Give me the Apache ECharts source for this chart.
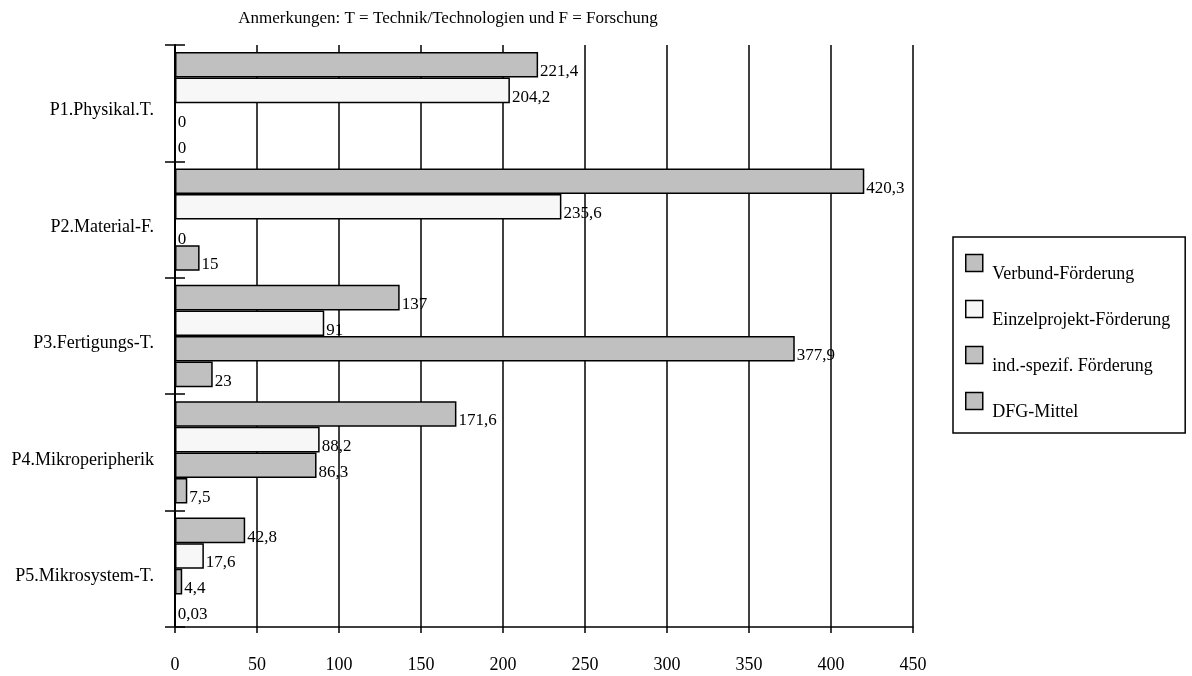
<!DOCTYPE html>
<html><head><meta charset="utf-8">
<script src="https://cdn.jsdelivr.net/npm/echarts@6/dist/echarts.min.js"></script>
<style>html,body{margin:0;padding:0;background:#fff}#c{width:1192px;height:676px}</style>
</head><body><div id="c"></div>
<script>
const categories = ['P1.Physikal.T.', 'P2.Material-F.', 'P3.Fertigungs-T.', 'P4.Mikroperipherik', 'P5.Mikrosystem-T.'];
const seriesNames = ['Verbund-Förderung', 'Einzelprojekt-Förderung', 'ind.-spezif. Förderung', 'DFG-Mittel'];
const verbund = [221.4, 420.3, 137, 171.6, 42.8];
const einzel = [204.2, 235.6, 91, 88.2, 17.6];
const indSpezif = [0, 0, 377.9, 86.3, 4.4];
const dfg = [0, 15, 23, 7.5, 0.03];
const xTicks = [0, 50, 100, 150, 200, 250, 300, 350, 400, 450];
const title = 'Anmerkungen: T = Technik/Technologien und F = Forschung';

const colors = ['#c0c0c0', '#f7f7f7', '#c0c0c0', '#c0c0c0'];
const FONT = '"Liberation Serif", "DejaVu Serif", serif';
const allData = [verbund, einzel, indSpezif, dfg];

const chart = echarts.init(document.getElementById('c'));
chart.setOption({
  animation: false,
  backgroundColor: '#fff',
  title: {
    text: title, left: 443, top: 5, textAlign: 'center',
    textStyle: {fontFamily: FONT, fontSize: 17, fontWeight: 'normal', color: '#000'}
  },
  grid: {left: 175, right: 279, top: 45, bottom: 49},
  legend: {
    orient: 'vertical', left: 953, top: 237,
    data: seriesNames,
    icon: 'rect', itemWidth: 17, itemHeight: 17, itemGap: 2,
    borderColor: '#000', borderWidth: 1.5,
    padding: [4, 15, 10, 12],
    formatter: name => '\n ' + name,
    textStyle: {fontFamily: FONT, fontSize: 18, color: '#000', lineHeight: 22},
    itemStyle: {borderColor: '#000', borderWidth: 1.5}
  },
  xAxis: {
    type: 'value', min: 0, max: 450, interval: 50,
    axisLine: {show: true, lineStyle: {color: '#000', width: 1.5}},
    axisTick: {show: true, length: 6, lineStyle: {color: '#000', width: 1.5}},
    axisLabel: {fontFamily: FONT, fontSize: 18, color: '#000', margin: 29,
      formatter: v => xTicks.indexOf(v) >= 0 ? String(v) : ''},
    splitLine: {show: true, lineStyle: {color: '#000', width: 1.5}}
  },
  yAxis: [{
    type: 'category', data: categories, inverse: true,
    axisLine: {show: true, lineStyle: {color: '#000', width: 2}},
    axisTick: {show: true, length: 10, lineStyle: {color: '#000', width: 1.5}},
    axisLabel: {fontFamily: FONT, fontSize: 18, color: '#000', margin: 21, lineHeight: 15,
      formatter: v => '\n' + v}
  }, {
    type: 'category', data: categories, inverse: true, position: 'left',
    axisLine: {show: false},
    axisTick: {show: true, inside: true, length: 10, lineStyle: {color: '#000', width: 1.5}},
    axisLabel: {show: false}
  }],
  series: seriesNames.map((name, i) => ({
    name, type: 'bar', yAxisIndex: 0,
    data: allData[i],
    barGap: '0%', barCategoryGap: '12%',
    itemStyle: {color: colors[i], borderColor: '#000', borderWidth: 1.5},
    label: {
      show: true, position: 'right', distance: 2, offset: [0, 7],
      fontFamily: FONT, fontSize: 17, color: '#000',
      formatter: p => String(p.value).replace('.', ',')
    }
  }))
});
</script></body></html>
